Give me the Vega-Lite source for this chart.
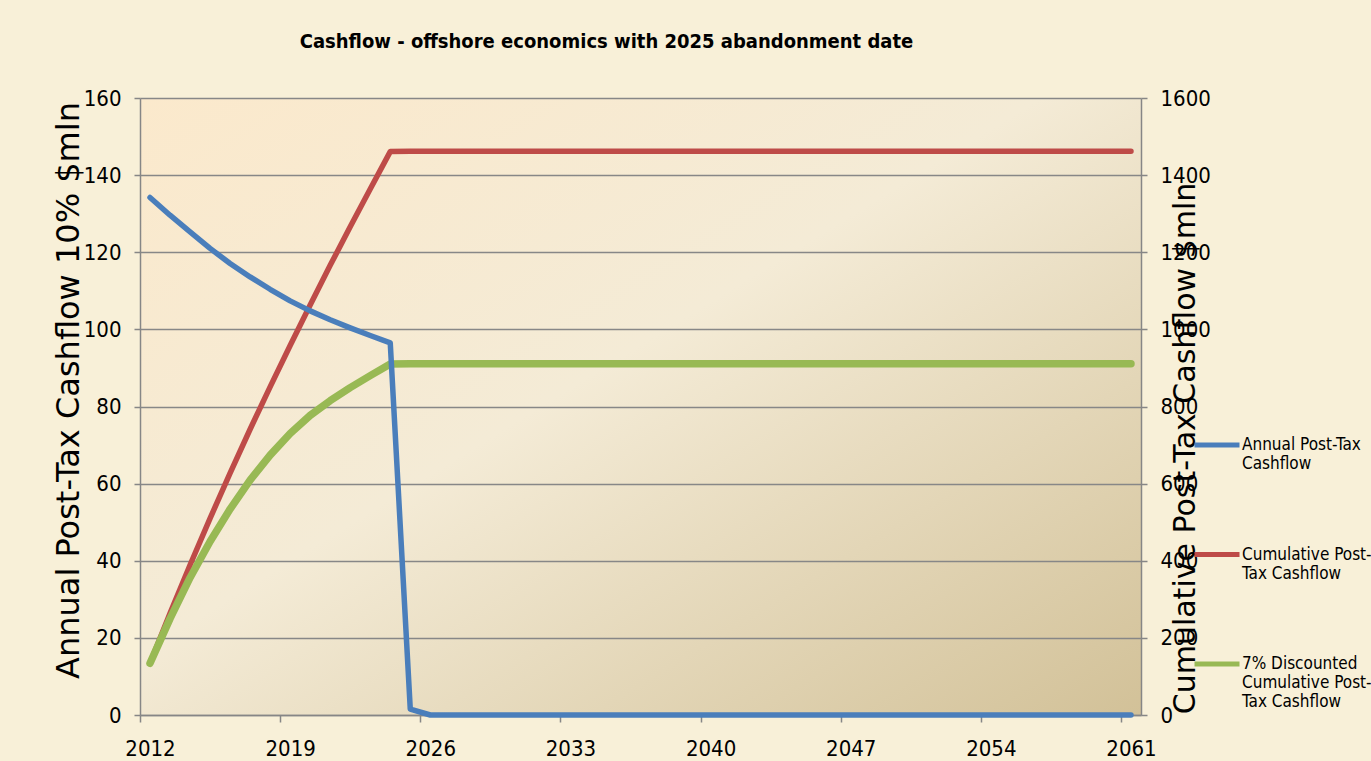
{
  "$schema": "https://vega.github.io/schema/vega-lite/v6.json",
  "width": 1001,
  "height": 617,
  "autosize": "none",
  "padding": {"left": 140, "top": 98, "right": 230, "bottom": 46},
  "background": "#F8F0D8",
  "title": {
    "text": "Cashflow  - offshore economics with 2025 abandonment date",
    "font": "Liberation Sans Narrow, DejaVu Sans Condensed, sans-serif",
    "fontSize": 20,
    "fontWeight": "bold",
    "color": "#000000",
    "anchor": "middle",
    "offset": 35,
    "dx": -34
  },
  "config": {
    "view": {
      "stroke": null,
      "fill": {
        "gradient": "linear",
        "x1": 0, "y1": 0, "x2": 1, "y2": 1,
        "stops": [
          {"offset": 0, "color": "#FBE9CC"},
          {"offset": 0.45, "color": "#F4EBD6"},
          {"offset": 1, "color": "#D2C198"}
        ]
      }
    },
    "axis": {
      "domainColor": "#868686",
      "domainWidth": 1.5,
      "tickColor": "#868686",
      "tickWidth": 1.5,
      "tickSize": 6,
      "gridColor": "#878787",
      "gridWidth": 1.6,
      "labelFont": "Liberation Sans Narrow, DejaVu Sans Condensed, sans-serif",
      "labelFontSize": 22,
      "labelColor": "#000000",
      "labelPadding": 13,
      "titleFont": "DejaVu Sans",
      "titleFontWeight": "normal",
      "titleColor": "#000000"
    }
  },
  "data": {
    "values": [
      {"year": 2012, "annual": 134.2, "cumulative": 134, "discounted": 134},
      {"year": 2013, "annual": 129.6, "cumulative": 264, "discounted": 250},
      {"year": 2014, "annual": 125.3, "cumulative": 389, "discounted": 356},
      {"year": 2015, "annual": 121.0, "cumulative": 510, "discounted": 450},
      {"year": 2016, "annual": 117.1, "cumulative": 627, "discounted": 534},
      {"year": 2017, "annual": 113.6, "cumulative": 741, "discounted": 609},
      {"year": 2018, "annual": 110.4, "cumulative": 851, "discounted": 674},
      {"year": 2019, "annual": 107.4, "cumulative": 958, "discounted": 730},
      {"year": 2020, "annual": 104.8, "cumulative": 1063, "discounted": 777},
      {"year": 2021, "annual": 102.5, "cumulative": 1166, "discounted": 815},
      {"year": 2022, "annual": 100.4, "cumulative": 1266, "discounted": 849},
      {"year": 2023, "annual": 98.4, "cumulative": 1364, "discounted": 880},
      {"year": 2024, "annual": 96.5, "cumulative": 1461, "discounted": 910},
      {"year": 2025, "annual": 1.5, "cumulative": 1462, "discounted": 911},
      {"year": 2026, "annual": 0, "cumulative": 1462, "discounted": 911},
      {"year": 2027, "annual": 0, "cumulative": 1462, "discounted": 911},
      {"year": 2028, "annual": 0, "cumulative": 1462, "discounted": 911},
      {"year": 2029, "annual": 0, "cumulative": 1462, "discounted": 911},
      {"year": 2030, "annual": 0, "cumulative": 1462, "discounted": 911},
      {"year": 2031, "annual": 0, "cumulative": 1462, "discounted": 911},
      {"year": 2032, "annual": 0, "cumulative": 1462, "discounted": 911},
      {"year": 2033, "annual": 0, "cumulative": 1462, "discounted": 911},
      {"year": 2034, "annual": 0, "cumulative": 1462, "discounted": 911},
      {"year": 2035, "annual": 0, "cumulative": 1462, "discounted": 911},
      {"year": 2036, "annual": 0, "cumulative": 1462, "discounted": 911},
      {"year": 2037, "annual": 0, "cumulative": 1462, "discounted": 911},
      {"year": 2038, "annual": 0, "cumulative": 1462, "discounted": 911},
      {"year": 2039, "annual": 0, "cumulative": 1462, "discounted": 911},
      {"year": 2040, "annual": 0, "cumulative": 1462, "discounted": 911},
      {"year": 2041, "annual": 0, "cumulative": 1462, "discounted": 911},
      {"year": 2042, "annual": 0, "cumulative": 1462, "discounted": 911},
      {"year": 2043, "annual": 0, "cumulative": 1462, "discounted": 911},
      {"year": 2044, "annual": 0, "cumulative": 1462, "discounted": 911},
      {"year": 2045, "annual": 0, "cumulative": 1462, "discounted": 911},
      {"year": 2046, "annual": 0, "cumulative": 1462, "discounted": 911},
      {"year": 2047, "annual": 0, "cumulative": 1462, "discounted": 911},
      {"year": 2048, "annual": 0, "cumulative": 1462, "discounted": 911},
      {"year": 2049, "annual": 0, "cumulative": 1462, "discounted": 911},
      {"year": 2050, "annual": 0, "cumulative": 1462, "discounted": 911},
      {"year": 2051, "annual": 0, "cumulative": 1462, "discounted": 911},
      {"year": 2052, "annual": 0, "cumulative": 1462, "discounted": 911},
      {"year": 2053, "annual": 0, "cumulative": 1462, "discounted": 911},
      {"year": 2054, "annual": 0, "cumulative": 1462, "discounted": 911},
      {"year": 2055, "annual": 0, "cumulative": 1462, "discounted": 911},
      {"year": 2056, "annual": 0, "cumulative": 1462, "discounted": 911},
      {"year": 2057, "annual": 0, "cumulative": 1462, "discounted": 911},
      {"year": 2058, "annual": 0, "cumulative": 1462, "discounted": 911},
      {"year": 2059, "annual": 0, "cumulative": 1462, "discounted": 911},
      {"year": 2060, "annual": 0, "cumulative": 1462, "discounted": 911},
      {"year": 2061, "annual": 0, "cumulative": 1462, "discounted": 911}
    ]
  },
  "transform": [
    {"fold": ["annual", "cumulative", "discounted"], "as": ["series", "value"]}
  ],
  "layer": [
    {
      "transform": [{"filter": "datum.series != 'annual'"}],
      "mark": {"type": "line", "strokeCap": "round", "strokeJoin": "round"},
      "encoding": {
        "x": {
          "field": "year",
          "type": "quantitative",
          "scale": {"domain": [2011.5, 2061.5], "nice": false, "zero": false},
          "axis": {
            "values": [2012, 2019, 2026, 2033, 2040, 2047, 2054, 2061],
            "format": "d",
            "grid": false,
            "tickSize": 7,
            "tickOffset": -10,
            "labelOffset": 10,
            "labelPadding": 16,
            "title": null
          }
        },
        "y": {
          "field": "value",
          "type": "quantitative",
          "scale": {"domain": [0, 1600], "nice": false},
          "axis": {
            "orient": "right",
            "values": [0, 200, 400, 600, 800, 1000, 1200, 1400, 1600],
            "format": "d",
            "grid": false,
            "title": "Cumulative Post-Tax Cashflow $mln",
            "titleFontSize": 30,
            "titleAngle": 270,
            "titleX": 44,
            "titleY": 350,
            "titleAlign": "center",
            "titleBaseline": "middle"
          }
        },
        "color": {
          "field": "series",
          "type": "nominal",
          "scale": {
            "domain": ["annual", "cumulative", "discounted"],
            "range": ["#4A7EBB", "#BE4B48", "#98B954"]
          },
          "legend": {
            "orient": "none",
            "legendX": 1052,
            "legendY": 322,
            "title": null,
            "padding": 0,
            "symbolType": "stroke",
            "symbolSize": 2025,
            "symbolStrokeWidth": 5,
            "labelFont": "Liberation Sans Narrow, DejaVu Sans Condensed, sans-serif",
            "labelFontSize": 17,
            "labelColor": "#000000",
            "labelLimit": 300,
            "labelOffset": 0,
            "labelBaseline": "middle",
            "rowPadding": 38.5,
            "labelExpr": "datum.label == 'annual' ? ['Annual Post-Tax', 'Cashflow', '\u00a0'] : datum.label == 'cumulative' ? ['Cumulative Post-', 'Tax Cashflow', '\u00a0'] : ['7% Discounted', 'Cumulative Post-', 'Tax Cashflow']"
          }
        },
        "strokeWidth": {
          "field": "series",
          "type": "nominal",
          "scale": {"domain": ["cumulative", "discounted"], "range": [5.5, 7.5]},
          "legend": null
        }
      }
    },
    {
      "transform": [{"filter": "datum.series == 'annual'"}],
      "mark": {"type": "line", "strokeWidth": 5.5, "strokeCap": "round", "strokeJoin": "round"},
      "encoding": {
        "x": {"field": "year", "type": "quantitative"},
        "y": {
          "field": "value",
          "type": "quantitative",
          "scale": {"domain": [0, 160], "nice": false},
          "axis": {
            "orient": "left",
            "values": [0, 20, 40, 60, 80, 100, 120, 140, 160],
            "grid": true,
            "title": "Annual Post-Tax Cashflow 10% $mln",
            "titleFontSize": 32,
            "titleAngle": 270,
            "titleX": -72,
            "titleY": 292,
            "titleAlign": "center",
            "titleBaseline": "middle"
          }
        },
        "color": {"field": "series", "type": "nominal"}
      }
    }
  ],
  "resolve": {"scale": {"y": "independent"}}
}
